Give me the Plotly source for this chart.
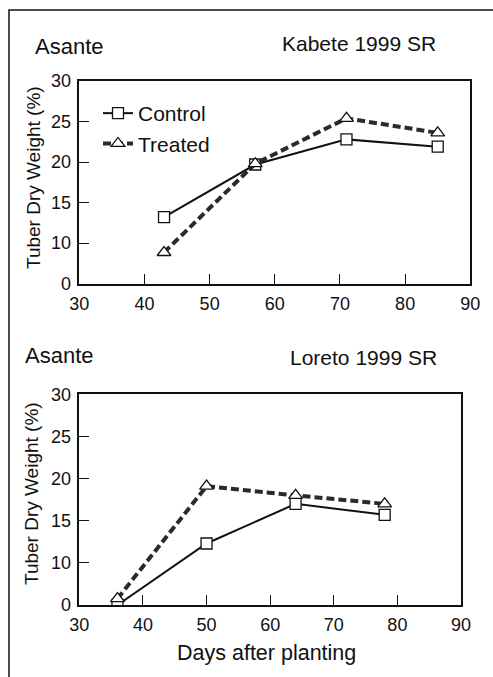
import plotly.graph_objects as go

# ---------------- data ----------------
kabete_days_control = [43, 57, 71, 85]
kabete_control = [13.2, 19.7, 22.8, 21.9]
kabete_days_treated = [43, 57, 71, 85]
kabete_treated = [7.7, 19.8, 25.4, 23.6]

loreto_days_control = [36, 50, 64, 78]
loreto_control = [0.0, 12.3, 17.0, 15.7]
loreto_days_treated = [36, 50, 64, 78]
loreto_treated = [1.5, 19.1, 18.0, 17.0]

y_tick_values = [0, 10, 15, 20, 25, 30]
y_tick_labels = ["0", "10", "15", "20", "25", "30"]
x_tick_values = [30, 40, 50, 60, 70, 80, 90]
x_tick_labels = ["30", "40", "50", "60", "70", "80", "90"]


# broken y axis: the 0-10 span is drawn compressed (same height as 5 units)
def brk(v):
    return v if v >= 10 else 5 + v * 0.5


W, H = 493, 677
FONT = "Liberation Sans, Arial, sans-serif"
INK = "#111111"


def px(x):  # page pixel -> paper
    return x / W


def py(y):
    return 1 - y / H


fig = go.Figure()

ctrl_style = dict(color=INK, width=2)
trt_style = dict(color="#2a2a2a", width=4, dash="8px,4px")
sq = dict(symbol="square", size=11, color="white", line=dict(color=INK, width=1.3))
tri = dict(symbol="triangle-up", size=12, color="white", line=dict(color=INK, width=1.3))

fig.add_trace(go.Scatter(x=kabete_days_control, y=[brk(v) for v in kabete_control],
                         mode="lines+markers", name="Control", line=ctrl_style, marker=sq,
                         xaxis="x", yaxis="y"))
fig.add_trace(go.Scatter(x=kabete_days_treated, y=[brk(v) for v in kabete_treated],
                         mode="lines+markers", name="Treated", line=trt_style, marker=tri,
                         xaxis="x", yaxis="y"))
fig.add_trace(go.Scatter(x=loreto_days_control, y=[brk(v) for v in loreto_control],
                         mode="lines+markers", name="Control", line=ctrl_style, marker=sq,
                         showlegend=False, xaxis="x2", yaxis="y2"))
fig.add_trace(go.Scatter(x=loreto_days_treated, y=[brk(v) for v in loreto_treated],
                         mode="lines+markers", name="Treated", line=trt_style, marker=tri,
                         showlegend=False, xaxis="x2", yaxis="y2", cliponaxis=False))

axis_common = dict(showline=True, mirror=True, linecolor=INK, linewidth=1.5,
                   showgrid=False, zeroline=False, ticks="inside", ticklen=10,
                   tickwidth=1.3, tickcolor=INK, automargin=False,
                   tickfont=dict(family=FONT, size=18, color=INK))

xcommon = dict(axis_common, range=[30, 90], tickvals=x_tick_values, ticktext=x_tick_labels,
               ticklabelstandoff=3)
ycommon = dict(axis_common, range=[5, 30], tickvals=[brk(v) for v in y_tick_values],
               ticktext=y_tick_labels, ticklabelstandoff=3)

fig.update_layout(
    width=W, height=H,
    margin=dict(l=0, r=0, t=0, b=0, pad=0, autoexpand=False),
    paper_bgcolor="white", plot_bgcolor="white",
    font=dict(family=FONT, color=INK),
    xaxis=dict(xcommon, domain=[px(79.3), px(470.3)], anchor="y"),
    yaxis=dict(ycommon, domain=[py(283.7), py(81)], anchor="x"),
    xaxis2=dict(xcommon, domain=[px(79.3), px(461)], anchor="y2"),
    yaxis2=dict(ycommon, domain=[py(605), py(394.3)], anchor="x2"),
    legend=dict(x=px(98), y=py(93), xanchor="left", yanchor="top",
                bgcolor="rgba(0,0,0,0)", font=dict(family=FONT, size=21, color=INK),
                tracegroupgap=0),
    showlegend=True,
)

annots = [
    dict(text="Asante", x=px(33), y=py(46.5), xanchor="left", size=22),
    dict(text="Kabete 1999 SR", x=px(359), y=py(44), xanchor="center", size=21),
    dict(text="Asante", x=px(22.7), y=py(355.5), xanchor="left", size=22),
    dict(text="Loreto 1999 SR", x=px(363), y=py(357), xanchor="center", size=21),
    dict(text="Days after planting", x=px(266), y=py(653), xanchor="center", size=21.5),
]
for a in annots:
    fig.add_annotation(text=a["text"], x=a["x"], y=a["y"], xref="paper", yref="paper",
                       xanchor=a["xanchor"], yanchor="middle", showarrow=False,
                       font=dict(family=FONT, size=a["size"], color=INK))

for cx, cy in [(34, 178), (31.5, 493.5)]:
    fig.add_annotation(text="Tuber Dry Weight (%)", x=px(cx), y=py(cy), xref="paper",
                       yref="paper", xanchor="center", yanchor="middle", textangle=-90,
                       showarrow=False, font=dict(family=FONT, size=19, color=INK))

# outer frame (top and left edges visible; continues past the right/bottom edges)
fig.add_shape(type="rect", xref="paper", yref="paper", x0=px(9), y0=py(720), x1=px(540),
              y1=py(10), line=dict(color=INK, width=1.5), fillcolor="rgba(0,0,0,0)")

fig.write_html(
    "out.html",
    config={"displayModeBar": False},
    post_script="document.body.style.margin='0';document.body.style.overflow='hidden';",
)
